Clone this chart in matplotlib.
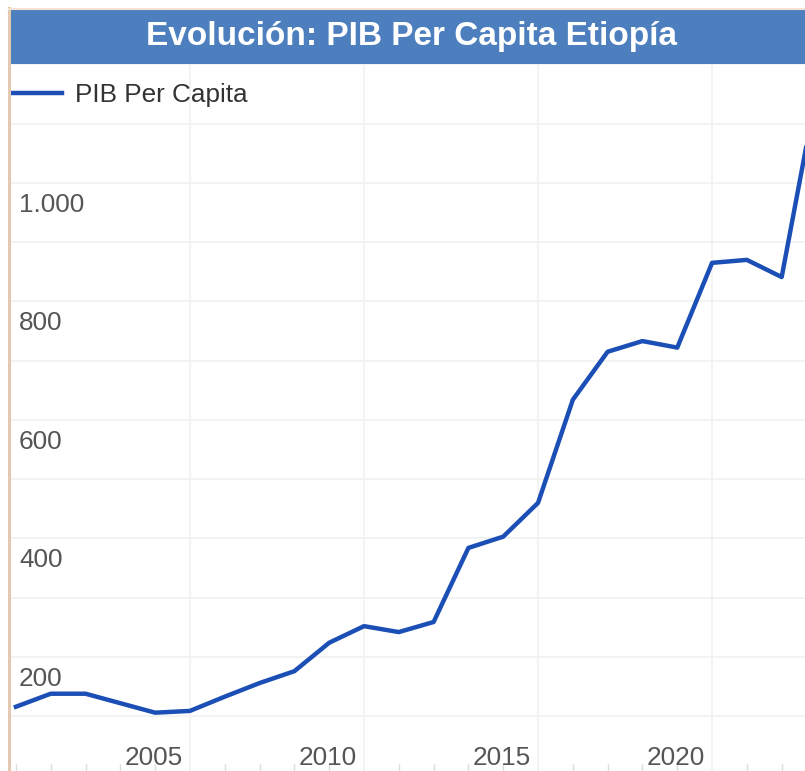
import matplotlib
matplotlib.use("Agg")
import matplotlib.pyplot as plt
import matplotlib.transforms as mtransforms
from matplotlib.patches import Rectangle
from matplotlib.lines import Line2D

plt.rcParams['font.family'] = ['Liberation Sans', 'DejaVu Sans']

title = "Evolución: PIB Per Capita Etiopía"
series_name = "PIB Per Capita"
years = list(range(2000, 2024))
gdp_pc = [116, 138, 138, 122, 106, 109, 133, 156, 176, 224, 252, 242, 259,
          384, 403, 460, 634, 715, 733, 722, 865, 870, 841, 1153]
y_ticks = [200, 400, 600, 800, 1000]
y_tick_labels = ["200", "400", "600", "800", "1.000"]
x_ticks = [2005, 2010, 2015, 2020]
x_tick_labels = ["2005", "2010", "2015", "2020"]

W, H = 805, 771
dpi = 100
fig = plt.figure(figsize=(W / dpi, H / dpi), dpi=dpi)
fig.patch.set_facecolor('white')

def fx(px):
    return px / W

def fy(py):
    return 1 - py / H

# Frame borders (tan)
fig.add_artist(Line2D([fx(9), fx(9)], [fy(8), fy(771)], color='#e3c9b2', lw=2.2,
                      transform=fig.transFigure))
fig.add_artist(Line2D([fx(9), fx(805)], [fy(8.5), fy(8.5)], color='#f3e2d2', lw=1.5,
                      transform=fig.transFigure))

# Title bar
fig.add_artist(Rectangle((fx(10), fy(64)), fx(805) - fx(10), fy(10) - fy(64),
                         transform=fig.transFigure, facecolor='#4d7fbf',
                         edgecolor='none'))
fig.text(fx(411), fy(36), title, color='white', fontsize=24, fontweight='bold',
         ha='center', va='center')

ax = fig.add_axes([fx(10), fy(771), fx(805) - fx(10), fy(64) - fy(771)])
ax.set_facecolor('white')
ax.plot(years, gdp_pc, color='#1c4fb6', lw=3.2, solid_joinstyle='round',
        label=series_name, zorder=3)

for s in ['top', 'right', 'bottom', 'left']:
    ax.spines[s].set_visible(False)

# Grid
ax.set_yticks(list(range(100, 1201, 100)))
ax.set_xticks(x_ticks)
ax.set_xticks(years, minor=True)
ax.grid(True, which='major', color='#f2f2f2', lw=1.3, zorder=0)
ax.tick_params(axis='y', which='both', length=0, labelleft=False)
ax.tick_params(axis='x', which='major', length=0, labelbottom=False)
ax.tick_params(axis='x', which='minor', direction='in', length=5, width=1,
               color='#dddddd', labelbottom=False)

ax.set_xlim(1999.83, 2022.67)
ax.set_ylim(7.6, 1200.5)

fs = 18.8
# Tick labels placed inside plot area
ytrans = mtransforms.blended_transform_factory(ax.transAxes, ax.transData)
for v, lab in zip(y_ticks, y_tick_labels):
    t = ytrans + mtransforms.ScaledTranslation(9 / dpi, -22 / dpi, fig.dpi_scale_trans)
    ax.text(0, v, lab, transform=t, ha='left', va='center', fontsize=fs,
            color='#555555')

xtrans = mtransforms.blended_transform_factory(ax.transData, ax.transAxes)
for v, lab in zip(x_ticks, x_tick_labels):
    t = xtrans + mtransforms.ScaledTranslation(-7 / dpi, 13 / dpi, fig.dpi_scale_trans)
    ax.text(v, 0, lab, transform=t, ha='right', va='center', fontsize=fs,
            color='#555555')

leg = ax.legend(loc='center left', bbox_to_anchor=(2 / 795, 1 - 31 / 707),
                frameon=False, fontsize=fs, handlelength=1.92, handletextpad=0.5,
                borderaxespad=0, borderpad=0)
for t in leg.get_texts():
    t.set_color('#333333')

fig.savefig('out.png', dpi=dpi)
